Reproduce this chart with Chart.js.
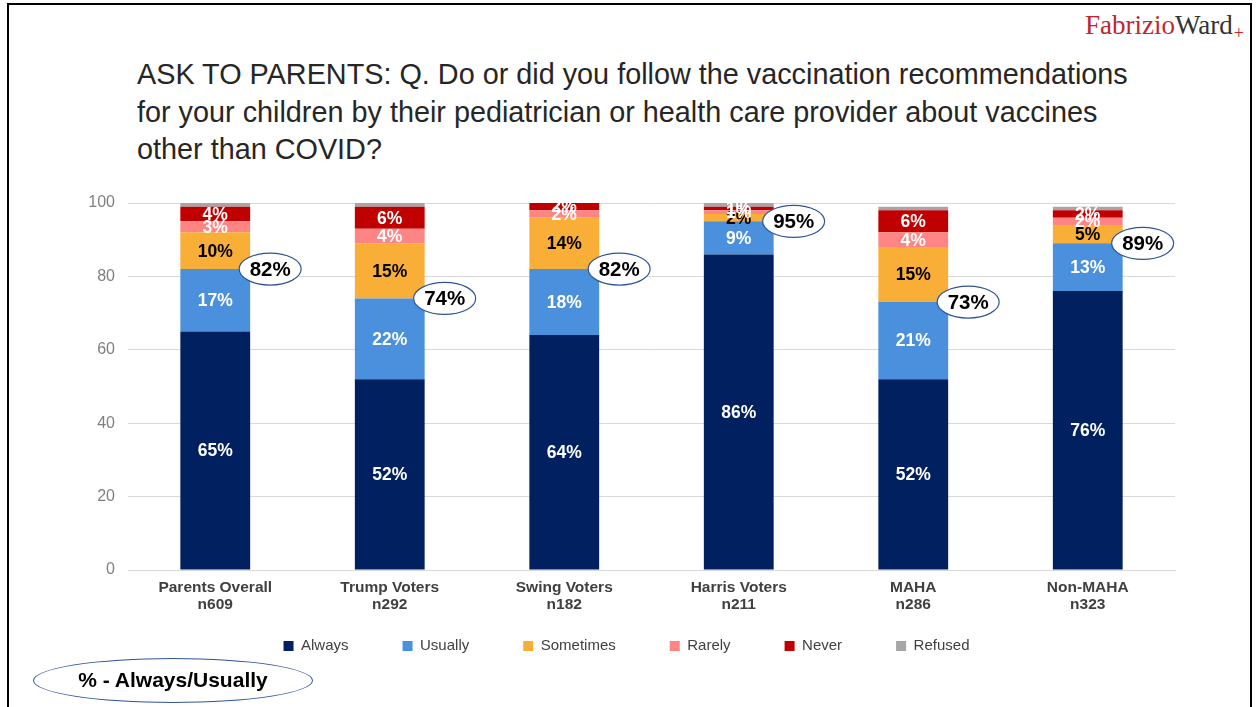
<!DOCTYPE html>
<html lang="en">
<head>
    <meta charset="UTF-8">
    <title>Vaccination recommendations - parents</title>
    <script src="https://cdn.jsdelivr.net/npm/chart.js"></script>
    <style>
        body {
            margin: 0;
            padding: 0;
            width: 1259px;
            height: 707px;
            overflow: hidden;
            background: #ffffff;
            font-family: Arial, 'Liberation Sans', sans-serif;
            position: relative;
        }

        /* slide frame (bottom edge runs off the page) */
        .frame {
            position: absolute;
            left: 7px;
            top: 3px;
            width: 1241px;
            height: 740px;
            border: 2px solid #000;
        }

        .logo {
            position: absolute;
            left: 1085px;
            top: 10px;
            font-family: 'Liberation Serif', 'DejaVu Serif', serif;
            font-size: 27px;
            white-space: nowrap;
        }
        .logo .red { color: #C0272D; }
        .logo .dark { color: #333333; }
        .logo .plus { color: #C0272D; font-size: 18px; position: relative; top: 5px; left: 1px; }

        .title {
            position: absolute;
            left: 137px;
            top: 56px;
            font-size: 28.8px;
            line-height: 37.5px;
            color: #262626;
            white-space: nowrap;
        }

        #chart {
            position: absolute;
            left: 0;
            top: 0;
        }

        .key-oval {
            position: absolute;
            left: 33px;
            top: 658px;
            width: 280px;
            height: 45px;
            border: 1.5px solid #2F5597;
            border-radius: 50%;
            box-sizing: border-box;
            text-align: center;
            line-height: 42px;
            font-size: 21px;
            font-weight: bold;
            color: #000;
        }
    </style>
</head>
<body>
    <div class="frame"></div>
    <div class="logo"><span class="red">Fabrizio</span><span class="dark">Ward</span><span class="plus">+</span></div>
    <div class="title">ASK TO PARENTS: Q. Do or did you follow the vaccination recommendations<br>for your children by their pediatrician or health care provider about vaccines<br>other than COVID?</div>

    <canvas id="chart" width="1259" height="707"></canvas>

    <div class="key-oval">% - Always/Usually</div>

    <script>
        // groups and answer shares (%)
        const categories = [
            ["Parents Overall", "n609"],
            ["Trump Voters", "n292"],
            ["Swing Voters", "n182"],
            ["Harris Voters", "n211"],
            ["MAHA", "n286"],
            ["Non-MAHA", "n323"]
        ];
        const always    = [65, 52, 64, 86, 52, 76];
        const usually   = [17, 22, 18, 9, 21, 13];
        const sometimes = [10, 15, 14, 2, 15, 5];
        const rarely    = [3, 4, 2, 1, 4, 2];
        const never     = [4, 6, 2, 1, 6, 2];
        const refused   = [1, 1, 0, 1, 1, 1];
        const yTicks    = [0, 20, 40, 60, 80, 100];

        const series = [
            { label: "Always",    data: always,    color: "#002060", text: "#ffffff" },
            { label: "Usually",   data: usually,   color: "#4A90DC", text: "#ffffff" },
            { label: "Sometimes", data: sometimes, color: "#F9AE38", text: "#000000" },
            { label: "Rarely",    data: rarely,    color: "#FF8585", text: "#ffffff" },
            { label: "Never",     data: never,     color: "#C00000", text: "#ffffff" },
            { label: "Refused",   data: refused,   color: "#A6A6A6", text: null }
        ];

        // percentage labels inside each segment
        const segmentLabels = {
            id: "segmentLabels",
            afterDatasetsDraw(chart) {
                const ctx = chart.ctx;
                ctx.save();
                ctx.font = "bold 17.5px Arial";
                ctx.textAlign = "center";
                ctx.textBaseline = "middle";
                series.forEach((s, i) => {
                    if (!s.text) return;
                    const meta = chart.getDatasetMeta(i);
                    meta.data.forEach((bar, j) => {
                        const v = s.data[j];
                        if (!v) return;
                        ctx.fillStyle = s.text;
                        ctx.fillText(v + "%", bar.x, (bar.y + bar.base) / 2 + 1);
                    });
                });
                ctx.restore();
            }
        };

        // always + usually total in an oval beside each bar
        const totalOvals = {
            id: "totalOvals",
            afterDatasetsDraw(chart) {
                const ctx = chart.ctx;
                const yScale = chart.scales.y;
                const meta = chart.getDatasetMeta(0);
                ctx.save();
                meta.data.forEach((bar, j) => {
                    const total = always[j] + usually[j];
                    const cx = bar.x + bar.width / 2 + 20;
                    const cy = yScale.getPixelForValue(total);
                    ctx.beginPath();
                    ctx.ellipse(cx, cy, 31, 16, 0, 0, Math.PI * 2);
                    ctx.fillStyle = "#ffffff";
                    ctx.fill();
                    ctx.lineWidth = 1.2;
                    ctx.strokeStyle = "#2F5597";
                    ctx.stroke();
                    ctx.fillStyle = "#000000";
                    ctx.font = "bold 20.5px Arial";
                    ctx.textAlign = "center";
                    ctx.textBaseline = "middle";
                    ctx.fillText(total + "%", cx, cy + 1);
                });
                ctx.restore();
            }
        };

        // wide legend padding spreads the items apart; pull the row back up under the axis
        const legendLift = {
            id: "legendLift",
            afterLayout(chart) {
                const lg = chart.legend;
                if (!lg) return;
                lg.top -= 33.5;
                lg.bottom -= 33.5;
            }
        };

        new Chart(document.getElementById("chart"), {
            type: "bar",
            data: {
                labels: categories,
                datasets: series.map(s => ({
                    label: s.label,
                    data: s.data,
                    backgroundColor: s.color,
                    borderWidth: 0,
                    barPercentage: 0.4,
                    categoryPercentage: 1
                }))
            },
            options: {
                responsive: false,
                animation: false,
                layout: {
                    padding: { left: 78, right: 84, top: 203, bottom: 10 }
                },
                plugins: {
                    legend: {
                        position: "bottom",
                        labels: {
                            boxWidth: 10,
                            boxHeight: 10,
                            padding: 54,
                            color: "#404040",
                            font: { family: "Arial", size: 15 }
                        }
                    },
                    tooltip: { enabled: false }
                },
                scales: {
                    x: {
                        stacked: true,
                        grid: { display: false, drawTicks: false },
                        border: { color: "#D9D9D9" },
                        ticks: {
                            color: "#404040",
                            padding: 9,
                            font: { family: "Arial", size: 15.5, weight: "bold", lineHeight: 1.1 }
                        },
                        afterFit(scale) { scale.height = 48; }
                    },
                    y: {
                        stacked: true,
                        min: 0,
                        max: 100,
                        afterBuildTicks(scale) { scale.ticks = yTicks.map(v => ({ value: v })); },
                        grid: { color: "#D9D9D9", drawTicks: false },
                        border: { display: false },
                        ticks: {
                            color: "#808080",
                            padding: 13,
                            font: { family: "Arial", size: 16 }
                        },
                        afterFit(scale) { scale.width = 50; }
                    }
                }
            },
            plugins: [segmentLabels, totalOvals, legendLift]
        });
    </script>
</body>
</html>
